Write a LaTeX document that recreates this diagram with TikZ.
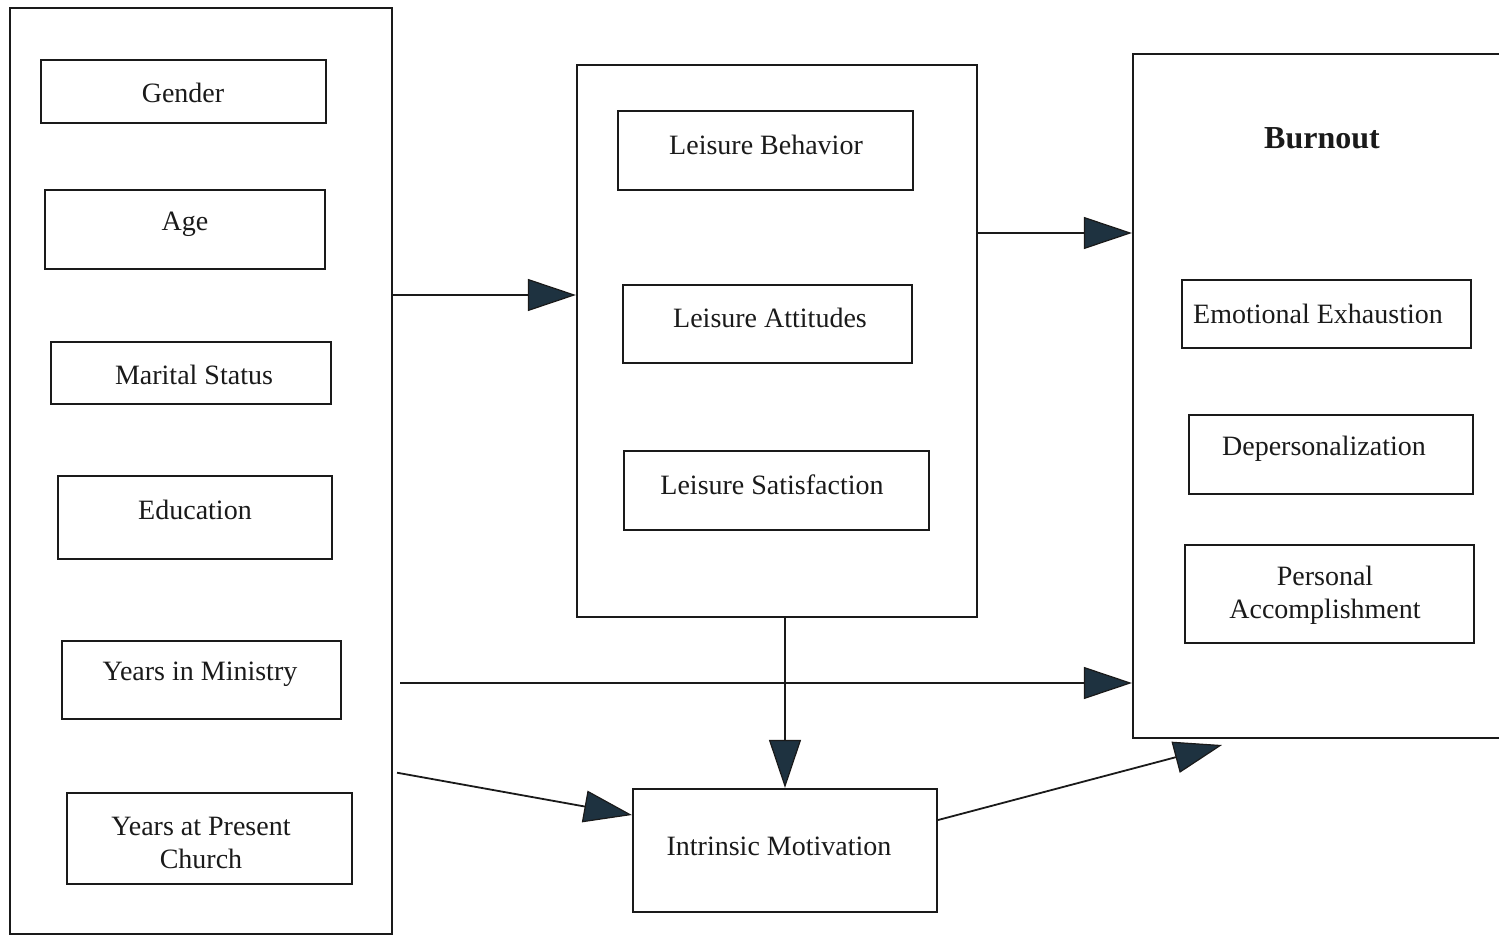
\documentclass[tikz,border=0pt]{standalone}
\usepackage{fontspec}
\setmainfont{Liberation Serif}
\usetikzlibrary{arrows.meta,fit,calc}
\definecolor{headc}{HTML}{1E3240}
\definecolor{ink}{HTML}{1A1A1A}
\begin{document}
\begin{tikzpicture}[x=0.5pt,y=-0.5pt,
  frame/.style={draw=ink, line width=1.1pt, inner sep=0pt},
  lbl/.style={font=\fontsize{14}{16.5}\selectfont, align=center, inner sep=0pt, text=ink},
  ttl/.style={font=\fontsize{16}{19}\selectfont\bfseries, inner sep=0pt, text=ink},
  arr/.style={line width=0.9pt, draw=ink, -{Triangle[length=24pt,width=16pt,fill=headc,line width=0.6pt]}}]
\useasboundingbox (0,0) rectangle (1499,936);
\clip (0,0) rectangle (1499,936);
\fill[white] (0,0) rectangle (1499,936);
% group frames
\node[frame, fit={(10,8) (392,934)}] (left) {};
\node[frame, fit={(577,65) (977,617)}] (mid) {};
\node[frame, fit={(1133,54) (1515,738)}] (burn) {};
% left boxes
\node[frame, fit={(41,60) (326,123)}] (gender) {};
\node[lbl] (gendert) at (183,93) {Gender};
\node[frame, fit={(45,190) (325,269)}] (age) {};
\node[lbl] (aget) at (185,224) {Age};
\node[frame, fit={(51,342) (331,404)}] (marital) {};
\node[lbl] (maritalt) at (194,375) {Marital Status};
\node[frame, fit={(58,476) (332,559)}] (edu) {};
\node[lbl] (edut) at (195,510) {Education};
\node[frame, fit={(62,641) (341,719)}] (ministry) {};
\node[lbl] (ministryt) at (200,674) {Years in Ministry};
\node[frame, fit={(67,793) (352,884)}] (church) {};
\node[lbl] (churcht) at (201,843) {Years at Present\\Church};
% middle boxes
\node[frame, fit={(618,111) (913,190)}] (behav) {};
\node[lbl] (behavt) at (766,145) {Leisure Behavior};
\node[frame, fit={(623,285) (912,363)}] (att) {};
\node[lbl] (attt) at (770,318) {Leisure Attitudes};
\node[frame, fit={(624,451) (929,530)}] (sat) {};
\node[lbl] (satt) at (772,485) {Leisure Satisfaction};
% intrinsic motivation
\node[frame, fit={(633,789) (937,912)}] (intr) {};
\node[lbl] (intrt) at (779,846) {Intrinsic Motivation};
% burnout
\node[ttl] (burnt) at (1322,138) {Burnout};
\node[frame, fit={(1182,280) (1471,348)}] (emo) {};
\node[lbl] (emot) at (1318,314) {Emotional Exhaustion};
\node[frame, fit={(1189,415) (1473,494)}] (dep) {};
\node[lbl] (dept) at (1324,449) {Depersonalization};
\node[frame, fit={(1185,545) (1474,643)}] (pers) {};
\node[lbl] (perst) at (1325,595) {Personal\\Accomplishment};
% connectors
\coordinate (endsix) at (1222,745);
\draw[arr] (left.east |- 0,295) -- (mid.west |- 0,295);
\draw[arr] (mid.east |- 0,233) -- (burn.west |- 0,233);
\draw[arr, shorten <=3.5pt] (left.east |- 0,683) -- (burn.west |- 0,683);
\draw[arr] (mid.south -| intr.north) -- (intr.north);
\draw[arr, shorten <=2pt] (left.east |- 0,772) -- (intr.west |- 0,815);
\draw[arr] (intr.east |- 0,820) -- (endsix);
\end{tikzpicture}
\end{document}
